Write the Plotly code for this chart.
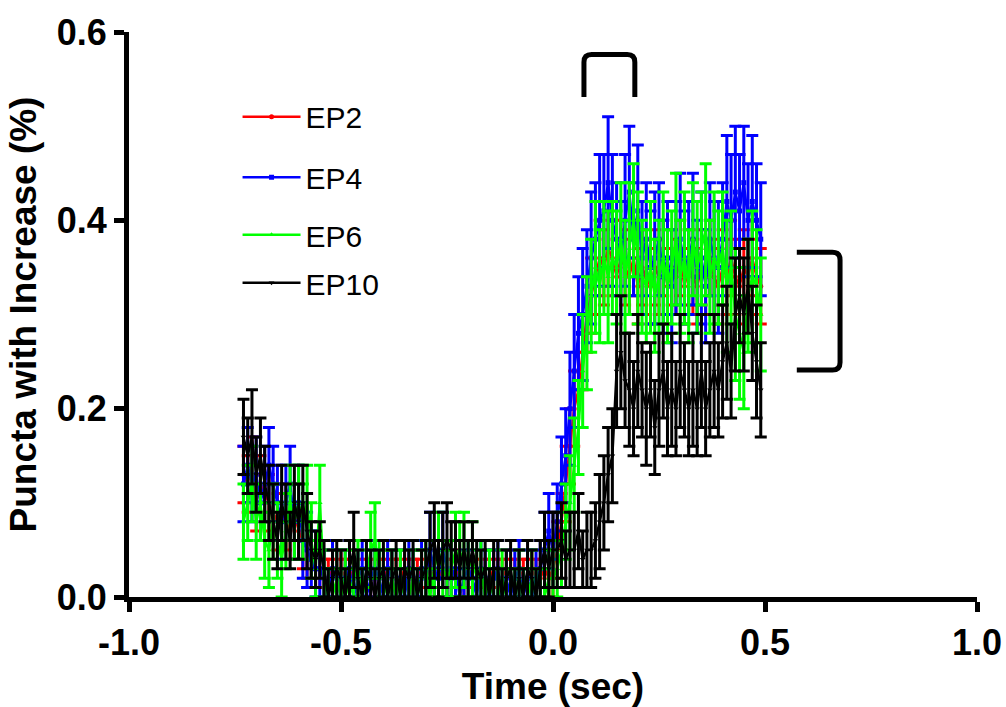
import numpy as np
import plotly.graph_objects as go

# Time grid (sec)
time_s = np.round(np.arange(-0.73, 0.495, 0.01), 2)

series_names = ["EP2", "EP4", "EP6", "EP10"]
series_colors = ["#ff0000", "#0000ff", "#00ff00", "#000000"]
series_symbols = ["circle", "square", "triangle-up", "triangle-down"]

ep2 = [0.13,0.12,0.14,0.10,0.12,0.11,0.10,0.09,0.08,0.09,
       0.08,0.07,0.09,0.07,0.06,0.05,0.04,0.03,0.03,0.02,
       0.02,0.03,0.02,0.03,0.02,0.02,0.03,0.02,0.01,0.02,
       0.02,0.03,0.02,0.02,0.03,0.02,0.02,0.02,0.03,0.02,
       0.02,0.02,0.03,0.02,0.03,0.02,0.02,0.03,0.02,0.02,
       0.03,0.02,0.02,0.03,0.02,0.02,0.03,0.02,0.02,0.03,
       0.02,0.02,0.03,0.02,0.02,0.03,0.02,0.02,0.03,0.02,
       0.02,0.03,0.02,0.03,0.05,0.08,0.12,0.16,0.20,0.22,
       0.26,0.30,0.32,0.34,0.36,0.35,0.37,0.36,0.34,0.36,
       0.35,0.34,0.36,0.33,0.35,0.34,0.33,0.35,0.34,0.36,
       0.33,0.35,0.34,0.36,0.33,0.35,0.34,0.33,0.35,0.34,
       0.36,0.34,0.33,0.35,0.34,0.36,0.34,0.33,0.35,0.34,
       0.36,0.34,0.33]
err2 = [0.03,0.03,0.03,0.03,0.03,0.03,0.03,0.03,0.03,0.03,
        0.03,0.03,0.03,0.03,0.03,0.03,0.02,0.02,0.02,0.02,
        0.02,0.02,0.02,0.02,0.02,0.02,0.02,0.02,0.02,0.02,
        0.02,0.02,0.02,0.02,0.02,0.02,0.02,0.02,0.02,0.02,
        0.02,0.02,0.02,0.02,0.02,0.02,0.02,0.02,0.02,0.02,
        0.02,0.02,0.02,0.02,0.02,0.02,0.02,0.02,0.02,0.02,
        0.02,0.02,0.02,0.02,0.02,0.02,0.02,0.02,0.02,0.02,
        0.02,0.02,0.02,0.03,0.03,0.03,0.04,0.04,0.04,0.04,
        0.04,0.04,0.04,0.04,0.04,0.04,0.04,0.04,0.04,0.04,
        0.04,0.04,0.04,0.04,0.04,0.04,0.04,0.04,0.04,0.04,
        0.04,0.04,0.04,0.04,0.04,0.04,0.04,0.04,0.04,0.04,
        0.04,0.04,0.04,0.04,0.04,0.04,0.04,0.04,0.04,0.04,
        0.04,0.04,0.04]

ep4 = [0.12,0.14,0.12,0.13,0.10,0.12,0.14,0.12,0.10,0.08,
       0.10,0.12,0.08,0.10,0.06,0.05,0.04,0.03,0.03,0.02,
       0.00,0.03,0.02,0.00,0.02,0.03,0.00,0.02,0.03,0.00,
       0.02,0.03,0.02,0.00,0.03,0.02,0.00,0.02,0.00,0.03,
       0.02,0.00,0.03,0.02,0.05,0.03,0.02,0.05,0.03,0.02,
       0.03,0.00,0.02,0.03,0.02,0.00,0.03,0.02,0.00,0.02,
       0.03,0.00,0.02,0.00,0.02,0.03,0.00,0.02,0.00,0.02,
       0.03,0.05,0.07,0.05,0.08,0.12,0.15,0.20,0.24,0.28,
       0.30,0.33,0.36,0.38,0.40,0.41,0.44,0.40,0.38,0.36,
       0.40,0.43,0.38,0.41,0.36,0.38,0.35,0.36,0.38,0.34,
       0.36,0.33,0.36,0.38,0.35,0.36,0.38,0.34,0.36,0.33,
       0.38,0.36,0.35,0.38,0.42,0.40,0.43,0.41,0.44,0.40,
       0.42,0.40,0.38]
err4 = [0.04,0.04,0.04,0.04,0.04,0.04,0.04,0.04,0.04,0.04,
        0.04,0.04,0.04,0.04,0.04,0.04,0.03,0.03,0.03,0.03,
        0.03,0.03,0.03,0.03,0.03,0.03,0.03,0.03,0.03,0.03,
        0.03,0.03,0.03,0.03,0.03,0.03,0.03,0.03,0.03,0.03,
        0.03,0.03,0.03,0.03,0.04,0.03,0.03,0.04,0.03,0.03,
        0.03,0.03,0.03,0.03,0.03,0.03,0.03,0.03,0.03,0.03,
        0.03,0.03,0.03,0.03,0.03,0.03,0.03,0.03,0.03,0.03,
        0.03,0.04,0.04,0.04,0.04,0.05,0.05,0.06,0.06,0.06,
        0.07,0.06,0.07,0.06,0.07,0.06,0.07,0.07,0.06,0.06,
        0.07,0.07,0.06,0.07,0.06,0.06,0.06,0.07,0.06,0.06,
        0.06,0.06,0.06,0.07,0.06,0.06,0.07,0.06,0.07,0.06,
        0.06,0.06,0.07,0.06,0.07,0.07,0.07,0.06,0.06,0.06,
        0.07,0.06,0.06]

ep6 = [0.08,0.10,0.12,0.08,0.10,0.06,0.05,0.08,0.06,0.04,
       0.07,0.10,0.08,0.10,0.08,0.10,0.06,0.03,0.10,0.02,
       0.00,0.00,0.02,0.00,0.02,0.00,0.02,0.03,0.00,0.02,
       0.05,0.06,0.03,0.02,0.00,0.02,0.00,0.02,0.00,0.00,
       0.02,0.00,0.02,0.03,0.00,0.03,0.05,0.03,0.02,0.03,
       0.05,0.04,0.05,0.03,0.04,0.02,0.03,0.00,0.02,0.00,
       0.00,0.02,0.00,0.00,0.00,0.02,0.00,0.00,0.02,0.00,
       0.00,0.00,0.02,0.02,0.03,0.05,0.08,0.10,0.14,0.18,
       0.24,0.28,0.32,0.35,0.33,0.36,0.34,0.36,0.35,0.38,
       0.34,0.37,0.40,0.36,0.34,0.33,0.35,0.32,0.34,0.36,
       0.33,0.35,0.38,0.34,0.36,0.33,0.38,0.35,0.37,0.39,
       0.34,0.36,0.35,0.37,0.33,0.35,0.30,0.28,0.26,0.32,
       0.34,0.33,0.30]
err6 = [0.04,0.04,0.04,0.04,0.04,0.04,0.04,0.04,0.04,0.04,
        0.04,0.04,0.04,0.04,0.04,0.04,0.04,0.03,0.04,0.03,
        0.03,0.03,0.03,0.03,0.03,0.03,0.03,0.03,0.03,0.03,
        0.04,0.04,0.03,0.03,0.03,0.03,0.03,0.03,0.03,0.03,
        0.03,0.03,0.03,0.03,0.03,0.03,0.04,0.03,0.03,0.03,
        0.04,0.04,0.04,0.03,0.04,0.03,0.03,0.03,0.03,0.03,
        0.03,0.03,0.03,0.03,0.03,0.03,0.03,0.03,0.03,0.03,
        0.03,0.03,0.03,0.03,0.03,0.04,0.04,0.05,0.05,0.05,
        0.06,0.06,0.06,0.07,0.06,0.06,0.07,0.06,0.06,0.06,
        0.06,0.07,0.06,0.07,0.06,0.06,0.07,0.06,0.06,0.07,
        0.06,0.06,0.07,0.06,0.07,0.06,0.06,0.07,0.06,0.07,
        0.06,0.07,0.06,0.06,0.07,0.06,0.07,0.07,0.06,0.06,
        0.07,0.06,0.06]

ep10 = [0.17,0.15,0.17,0.13,0.15,0.12,0.10,0.08,0.06,0.10,
        0.08,0.06,0.10,0.08,0.10,0.07,0.05,0.04,0.05,0.03,
        0.00,0.02,0.03,0.02,0.00,0.03,0.05,0.02,0.00,0.03,
        0.02,0.00,0.02,0.03,0.00,0.02,0.03,0.00,0.03,0.02,
        0.03,0.00,0.02,0.03,0.05,0.06,0.03,0.05,0.06,0.05,
        0.05,0.03,0.05,0.03,0.05,0.03,0.02,0.03,0.00,0.03,
        0.03,0.00,0.02,0.03,0.00,0.02,0.00,0.03,0.02,0.00,
        0.03,0.05,0.03,0.05,0.05,0.06,0.04,0.05,0.05,0.07,
        0.04,0.05,0.05,0.06,0.08,0.10,0.13,0.15,0.24,0.26,
        0.23,0.22,0.20,0.24,0.22,0.20,0.22,0.18,0.22,0.24,
        0.20,0.22,0.20,0.24,0.22,0.20,0.22,0.20,0.24,0.20,
        0.22,0.24,0.22,0.25,0.27,0.24,0.30,0.32,0.30,0.33,
        0.28,0.25,0.22]
err10 = [0.04,0.04,0.05,0.04,0.04,0.04,0.04,0.04,0.03,0.04,
         0.04,0.03,0.04,0.04,0.04,0.04,0.03,0.03,0.03,0.03,
         0.03,0.03,0.03,0.03,0.03,0.03,0.04,0.03,0.03,0.03,
         0.03,0.03,0.03,0.03,0.03,0.03,0.03,0.03,0.03,0.03,
         0.03,0.03,0.03,0.03,0.04,0.04,0.03,0.04,0.04,0.03,
         0.03,0.03,0.03,0.03,0.03,0.03,0.03,0.03,0.03,0.03,
         0.03,0.03,0.03,0.03,0.03,0.03,0.03,0.03,0.03,0.03,
         0.03,0.04,0.03,0.04,0.04,0.04,0.03,0.04,0.04,0.04,
         0.03,0.04,0.04,0.04,0.05,0.05,0.05,0.05,0.06,0.06,
         0.05,0.06,0.05,0.06,0.05,0.06,0.05,0.05,0.06,0.05,
         0.05,0.06,0.05,0.06,0.05,0.05,0.06,0.05,0.06,0.05,
         0.05,0.06,0.05,0.06,0.06,0.05,0.06,0.05,0.06,0.05,
         0.05,0.06,0.05]

values = [ep2, ep4, ep6, ep10]
errors = [err2, err4, err6, err10]
for v, e in zip(values, errors):
    assert len(v) == len(time_s) and len(e) == len(time_s), (len(v), len(e), len(time_s))

x_ticks = [-1.0, -0.5, 0.0, 0.5, 1.0]
x_ticktext = ["-1.0", "-0.5", "0.0", "0.5", "1.0"]
y_ticks = [0.0, 0.2, 0.4, 0.6]
y_ticktext = ["0.0", "0.2", "0.4", "0.6"]

fig = go.Figure()
legend_ids = ["legend", "legend2", "legend3", "legend4"]
legend_y = [0.850, 0.743, 0.641, 0.556]

for name, col, sym, v, e, lid in zip(series_names, series_colors, series_symbols,
                                     values, errors, legend_ids):
    fig.add_trace(go.Scatter(
        x=time_s, y=v, name=name, mode="lines+markers",
        line=dict(color=col, width=2.5),
        marker=dict(color=col, size=5, symbol=sym),
        error_y=dict(type="data", array=e, visible=True, color=col,
                     thickness=3, width=6),
        legend=lid, cliponaxis=True,
    ))

legend_font = dict(family="Liberation Sans, Arial, sans-serif", size=30, color="black")
leg_common = dict(x=0.128, xanchor="left", yanchor="middle", font=legend_font,
                  bgcolor="rgba(0,0,0,0)", borderwidth=0, itemwidth=58)
layout_legends = {}
for lid, ly in zip(legend_ids, legend_y):
    layout_legends[lid] = dict(y=ly, **leg_common)

tick_font = dict(family="Liberation Sans, Arial, sans-serif", size=36, color="black", weight="bold")
title_font = dict(family="Liberation Sans, Arial, sans-serif", size=37, color="black", weight="bold")

# bracket helper in data coordinates
def bracket_top(x0, x1, y0, y1, rx, ry):
    return (f"M {x0} {y0} L {x0} {y1-ry} Q {x0} {y1} {x0+rx} {y1} "
            f"L {x1-rx} {y1} Q {x1} {y1} {x1} {y1-ry} L {x1} {y0}")

def bracket_right(x0, x1, y0, y1, rx, ry):
    return (f"M {x0} {y1} L {x1-rx} {y1} Q {x1} {y1} {x1} {y1-ry} "
            f"L {x1} {y0+ry} Q {x1} {y0} {x1-rx} {y0} L {x0} {y0}")

shapes = [
    dict(type="path", xref="x", yref="y",
         path=bracket_top(0.073, 0.193, 0.531, 0.576, 0.018, 0.008),
         line=dict(color="black", width=5)),
    dict(type="path", xref="x", yref="y",
         path=bracket_right(0.575, 0.677, 0.241, 0.366, 0.018, 0.008),
         line=dict(color="black", width=5)),
]

fig.update_layout(
    width=1006, height=707,
    margin=dict(l=129, r=29, t=32, b=110, autoexpand=False),
    paper_bgcolor="white", plot_bgcolor="white",
    showlegend=True,
    shapes=shapes,
    xaxis=dict(range=[-1.0, 1.0], tickvals=x_ticks, ticktext=x_ticktext,
               showgrid=False, zeroline=False, showline=True, linecolor="black",
               linewidth=5, ticks="outside", ticklen=10, tickwidth=5, tickcolor="black",
               tickfont=tick_font, automargin=False,
               title=dict(text="Time (sec)", font=title_font, standoff=14)),
    yaxis=dict(range=[0.0, 0.6], tickvals=y_ticks, ticktext=y_ticktext,
               showgrid=False, zeroline=False, showline=True, linecolor="black",
               linewidth=5, ticks="outside", ticklen=10, tickwidth=5, tickcolor="black",
               tickfont=tick_font, automargin=False,
               title=dict(text="Puncta with Increase (%)", font=title_font, standoff=10)),
    **layout_legends,
)

fig.write_html("out.html")
